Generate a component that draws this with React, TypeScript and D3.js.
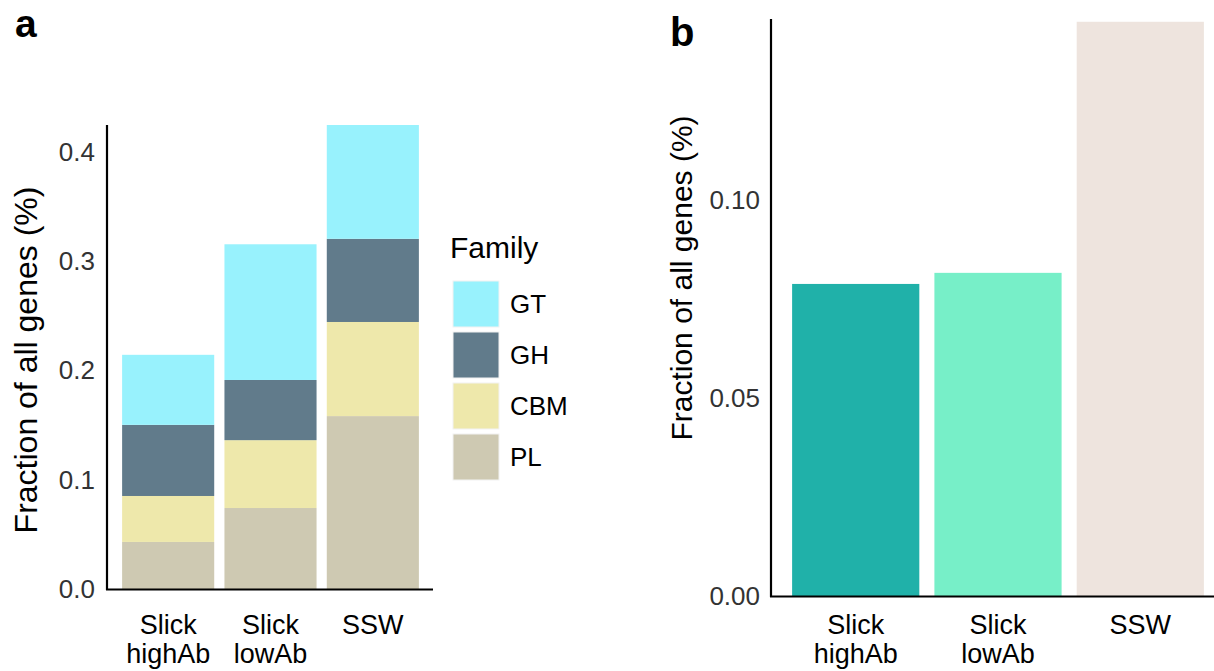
import React from "react";
import * as d3 from "d3";

const categories = ["Slick highAb", "Slick lowAb", "SSW"];
const catLines = [["Slick", "highAb"], ["Slick", "lowAb"], ["SSW"]];
const families = ["PL", "CBM", "GH", "GT"];
const legendOrder = ["GT", "GH", "CBM", "PL"];
const familyColors: Record<string, string> = {
  GT: "#98F2FD",
  GH: "#617B8B",
  CBM: "#EEE8AB",
  PL: "#CEC9B2",
};
const plValues = [0.043, 0.074, 0.158];
const cbmValues = [0.042, 0.062, 0.086];
const ghValues = [0.065, 0.055, 0.076];
const gtValues = [0.064, 0.124, 0.104];
const ticksA = [0.0, 0.1, 0.2, 0.3, 0.4];

const totalValuesB = [0.0788, 0.0816, 0.145];
const colorsB = ["#20B1A9", "#77EFC8", "#EEE4DE"];
const ticksB = [0.0, 0.05, 0.1];

const FONT = "'Liberation Sans', Arial, Helvetica, sans-serif";

export default function App() {
  const W = 1214, H = 671;

  // Panel a
  const xA = d3.scaleBand<string>().domain(categories).range([117, 424]).paddingInner(0.1).paddingOuter(0.05);
  const yA = d3.scaleLinear().domain([0, 0.424]).range([589, 125]);
  const rows = categories.map((c, i) => ({
    cat: c,
    PL: plValues[i],
    CBM: cbmValues[i],
    GH: ghValues[i],
    GT: gtValues[i],
  }));
  const stack = d3.stack<any>().keys(families)(rows);

  // Panel b
  const xB = d3.scaleBand<string>().domain(categories).range([785, 1211]).paddingInner(0.106).paddingOuter(0.05);
  const yB = d3.scaleLinear().domain([0, 0.1457]).range([596, 19]);

  return (
    <svg width={W} height={H} style={{ display: "block", position: "absolute", left: 0, top: 0 }} fontFamily={FONT}>
      <rect x={0} y={0} width={W} height={H} fill="#fff" />
      {/* Panel labels */}
      <text x={15} y={37} fontSize={39} fontWeight="bold">a</text>
      <text x={670} y={46} fontSize={40} fontWeight="bold">b</text>

      {/* Panel a bars */}
      {stack.map((layer) => (
        <g key={layer.key}>
          {layer.map((d, i) => (
            <rect
              key={i}
              x={xA(categories[i])}
              y={yA(d[1])}
              width={xA.bandwidth()}
              height={yA(d[0]) - yA(d[1])}
              fill={familyColors[layer.key]}
            />
          ))}
        </g>
      ))}
      {/* Panel a axes */}
      <line x1={107} x2={107} y1={yA(0.424)} y2={590} stroke="#000" strokeWidth={2.2} />
      <line x1={106} x2={433} y1={589.5} y2={589.5} stroke="#000" strokeWidth={2.2} />
      {ticksA.map((t) => (
        <text key={t} x={95} y={yA(t)} dy="0.36em" textAnchor="end" fontSize={26} fill="#333">
          {t.toFixed(1)}
        </text>
      ))}
      {categories.map((c, i) => (
        <text key={c} textAnchor="middle" fontSize={27} fill="#000">
          {catLines[i].map((l, j) => (
            <tspan key={j} x={(xA(c) as number) + xA.bandwidth() / 2} y={634 + j * 29}>{l}</tspan>
          ))}
        </text>
      ))}
      <text transform={`translate(37,360) rotate(-90)`} textAnchor="middle" fontSize={32} fill="#000">
        Fraction of all genes (%)
      </text>

      {/* Legend */}
      <text x={450} y={258} fontSize={30} fill="#000">Family</text>
      {legendOrder.map((f, i) => (
        <g key={f}>
          <rect x={453} y={281 + i * 51} width={46} height={46} fill={familyColors[f]} stroke="#f2f2f2" strokeWidth={1} />
          <text x={510} y={281 + i * 51 + 23} dy="0.36em" fontSize={26} fill="#000">{f}</text>
        </g>
      ))}

      {/* Panel b bars */}
      {categories.map((c, i) => (
        <rect
          key={c}
          x={xB(c)}
          y={yB(totalValuesB[i])}
          width={xB.bandwidth()}
          height={yB(0) - yB(totalValuesB[i])}
          fill={colorsB[i]}
        />
      ))}
      <line x1={771} x2={771} y1={19} y2={597} stroke="#000" strokeWidth={2.2} />
      <line x1={770} x2={1214} y1={596.5} y2={596.5} stroke="#000" strokeWidth={2.2} />
      {ticksB.map((t) => (
        <text key={t} x={760} y={yB(t)} dy="0.36em" textAnchor="end" fontSize={26} fill="#333">
          {t.toFixed(2)}
        </text>
      ))}
      {categories.map((c, i) => (
        <text key={c} textAnchor="middle" fontSize={27} fill="#000">
          {catLines[i].map((l, j) => (
            <tspan key={j} x={(xB(c) as number) + xB.bandwidth() / 2} y={634 + j * 29}>{l}</tspan>
          ))}
        </text>
      ))}
      <text transform={`translate(692,278) rotate(-90)`} textAnchor="middle" fontSize={30} fill="#000">
        Fraction of all genes (%)
      </text>
    </svg>
  );
}
